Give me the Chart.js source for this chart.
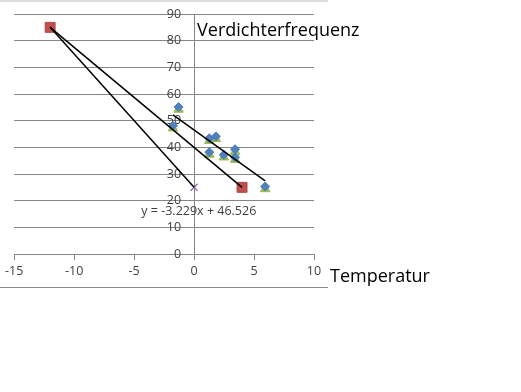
<!DOCTYPE html>
<html>
<head>
<meta charset="utf-8">
<script src="https://cdn.jsdelivr.net/npm/chart.js@4"></script>
<style>
	body { margin: 0; background: #fff; }
</style>
</head>
<body>
<canvas id="chart" width="521" height="392"></canvas>
<script>
// data
const diamondX = [-1.29, -1.76, 1.27, 1.82, 1.27, 2.48, 3.42, 3.42, 5.93];
const diamondY = [55.1, 48.1, 43.4, 44.1, 38.2, 37.2, 39.3, 36.3, 25.3];
const triangleX = [-1.29, -1.76, 1.27, 1.82, 1.27, 2.48, 3.42, 3.42, 5.93];
const triangleY = [54.2, 47.2, 42.5, 43.2, 37.3, 36.3, 38.4, 35.4, 24.4];
const squareX = [-12, 4];
const squareY = [85, 25];
const crossX = [0];
const crossY = [25];
const lineAX = [-12, 0];
const lineAY = [85, 25];
const lineBX = [-12, 4];
const lineBY = [85, 25];
const trendX = [-1.76, 5.93];
const trendY = [52.2, 27.4];
const trendLabel = "y = -3.229x + 46.526";
const trendLabelAt = [-4.4, 15.8];
const xTicks = [-15, -10, -5, 0, 5, 10];
const yTicks = [0, 10, 20, 30, 40, 50, 60, 70, 80, 90];
const yTitle = "Verdichterfrequenz";
const xTitle = "Temperatur";

const pts = (xs, ys) => xs.map((x, i) => ({ x: x, y: ys[i] }));

const lineSet = (xs, ys) => ({
	data: pts(xs, ys),
	showLine: true,
	borderColor: "#000000",
	borderWidth: 1.5,
	pointRadius: 0,
});

const decor = {
	id: "decor",
	afterDraw(chart) {
		const ctx = chart.ctx;
		const sx = chart.scales.x;
		const sy = chart.scales.y;
		ctx.save();
		// cropped frame edges
		ctx.strokeStyle = "#dcdcdc";
		ctx.lineWidth = 2;
		ctx.beginPath();
		ctx.moveTo(0, 1);
		ctx.lineTo(328, 1);
		ctx.stroke();
		ctx.strokeStyle = "#8c8c8c";
		ctx.lineWidth = 1;
		ctx.beginPath();
		ctx.moveTo(0, 287.5);
		ctx.lineTo(328, 287.5);
		ctx.stroke();

		ctx.fillStyle = "#404040";
		ctx.font = "12.5px 'Open Sans'";
		ctx.textBaseline = "middle";
		ctx.textAlign = "left";
		ctx.fillText(trendLabel, sx.getPixelForValue(trendLabelAt[0]), sy.getPixelForValue(trendLabelAt[1]));

		ctx.fillStyle = "#000000";
		ctx.font = "18px 'Open Sans'";
		ctx.fillText(yTitle, sx.getPixelForValue(0) + 3, sy.getPixelForValue(90) + 17);
		ctx.fillText(xTitle, sx.right + 16, sy.bottom + 23);
		ctx.restore();
	},
};

new Chart(document.getElementById("chart").getContext("2d"), {
	type: "scatter",
	data: {
		datasets: [
			lineSet(lineAX, lineAY),
			lineSet(lineBX, lineBY),
			lineSet(trendX, trendY),
			{
				data: pts(squareX, squareY),
				pointStyle: "rect",
				pointRadius: 7,
				backgroundColor: "#C0504D",
				borderColor: "#A94644",
				borderWidth: 1,
			},
			{
				data: pts(crossX, crossY),
				pointStyle: "crossRot",
				pointRadius: 5,
				borderColor: "#8064A2",
				borderWidth: 1.2,
			},
			{
				data: pts(diamondX, diamondY),
				pointStyle: "rectRot",
				pointRadius: 4.5,
				backgroundColor: "#4F81BD",
				borderColor: "#4A7EBB",
				borderWidth: 1,
			},
			{
				data: pts(triangleX, triangleY),
				pointStyle: "triangle",
				pointRadius: 5.5,
				backgroundColor: "#9BBB59",
				borderColor: "#98B954",
				borderWidth: 1,
			},
		],
	},
	options: {
		responsive: false,
		animation: false,
		devicePixelRatio: 1,
		layout: { padding: { left: 12, top: 14, right: 207, bottom: 138 } },
		plugins: {
			legend: { display: false },
			tooltip: { enabled: false },
		},
		scales: {
			x: {
				type: "linear",
				position: { y: 0 },
				min: -15,
				max: 10,
				afterBuildTicks: (axis) => {
					axis.ticks = xTicks.map((v) => ({ value: v }));
				},
				grid: { drawOnChartArea: false, drawTicks: true, tickLength: 5, color: "#868686" },
				border: { color: "#868686", width: 1 },
				ticks: {
					padding: 5,
					color: "#404040",
					font: { family: "'Open Sans'", size: 12.5 },
					maxRotation: 0,
				},
			},
			y: {
				type: "linear",
				position: { x: 0 },
				min: 0,
				max: 90,
				afterBuildTicks: (axis) => {
					axis.ticks = yTicks.map((v) => ({ value: v }));
				},
				grid: { color: "#868686", lineWidth: 1, tickLength: 5 },
				border: { color: "#868686", width: 1 },
				ticks: {
					padding: 5,
					color: "#404040",
					font: { family: "'Open Sans'", size: 12.5 },
					// centred axes get no label gap, so pad with spaces
					callback: (v) => v + "    ",
				},
			},
		},
	},
	plugins: [decor],
});
</script>
</body>
</html>
